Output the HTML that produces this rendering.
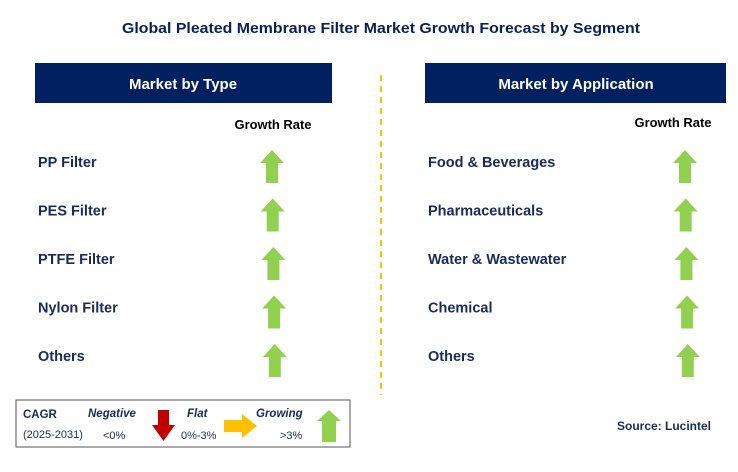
<!DOCTYPE html>
<html><head><meta charset="utf-8"><style>
html,body{margin:0;padding:0;background:#fff;}
svg text{font-family:"Liberation Sans",Arial,sans-serif;}
</style></head><body>
<svg id="chart" width="738" height="467" viewBox="0 0 738 467" xmlns="http://www.w3.org/2000/svg">
<text x="381" y="33" text-anchor="middle" font-size="15" font-weight="bold" fill="#0a1f5c" textLength="518" lengthAdjust="spacingAndGlyphs">Global Pleated Membrane Filter Market Growth Forecast by Segment</text>
<rect x="35" y="63" width="297" height="40" fill="#002060"/>
<text x="183" y="89" text-anchor="middle" font-size="15" font-weight="bold" fill="#fff">Market by Type</text>
<rect x="425" y="63" width="301" height="40" fill="#002060"/>
<text x="576" y="89" text-anchor="middle" font-size="15" font-weight="bold" fill="#fff">Market by Application</text>
<line x1="381" y1="75" x2="381" y2="395" stroke="#ffc000" stroke-width="2" stroke-dasharray="6,5"/>
<text x="273" y="129" text-anchor="middle" font-size="12.5" font-weight="bold" fill="#000" textLength="77" lengthAdjust="spacingAndGlyphs">Growth Rate</text>
<text x="673" y="127" text-anchor="middle" font-size="12.5" font-weight="bold" fill="#000" textLength="77" lengthAdjust="spacingAndGlyphs">Growth Rate</text>
<g id="rows"></g>
<rect x="16" y="400" width="334" height="47" fill="#fff" stroke="#555" stroke-width="1"/>
<text x="23" y="418" font-size="11.5" font-weight="bold" fill="#1a2a5e">CAGR</text>
<text x="23" y="438" font-size="11" fill="#1a2a5e">(2025-2031)</text>
<text x="88" y="417" font-size="11.5" font-weight="bold" font-style="italic" fill="#1a2a5e">Negative</text>
<text x="103" y="439" font-size="11" fill="#1a2a5e">&lt;0%</text>
<polygon points="158,410 169,410 169,425 175,425 163.5,441 152,425 158,425" fill="#c00000"/>
<text x="187" y="417" font-size="11.5" font-weight="bold" font-style="italic" fill="#1a2a5e">Flat</text>
<text x="181" y="439" font-size="11" fill="#1a2a5e">0%-3%</text>
<polygon points="224,420 242,420 242,414 257,426 242,438 242,432 224,432" fill="#ffc000"/>
<text x="256" y="417" font-size="11.5" font-weight="bold" font-style="italic" fill="#1a2a5e">Growing</text>
<text x="280" y="439" font-size="11" fill="#1a2a5e">&gt;3%</text>
<polygon points="329,410 341,421 336,421 336,442 322,442 322,421 317,421" fill="#92d050"/>
<text x="711" y="430" text-anchor="end" font-size="12" font-weight="bold" fill="#1a2a5e">Source: Lucintel</text>
</svg>
<script>
const typeCategories = ["PP Filter","PES Filter","PTFE Filter","Nylon Filter","Others"];
const typeGrowth = ["growing","growing","growing","growing","growing"];
const appCategories = ["Food & Beverages","Pharmaceuticals","Water & Wastewater","Chemical","Others"];
const appGrowth = ["growing","growing","growing","growing","growing"];

const NS = "http://www.w3.org/2000/svg";
const g = document.getElementById("rows");
function rowY(i){ return 162 + i*48.5; }
function arrow(cx, cy, kind){
  const p = document.createElementNS(NS,"polygon");
  let pts, fill;
  if(kind==="growing"){ pts=[[cx,cy-17],[cx+12,cy-4],[cx+6,cy-4],[cx+6,cy+16],[cx-6,cy+16],[cx-6,cy-4],[cx-12,cy-4]]; fill="#92d050"; }
  else if(kind==="negative"){ pts=[[cx,cy+17],[cx+12,cy+4],[cx+6,cy+4],[cx+6,cy-16],[cx-6,cy-16],[cx-6,cy+4],[cx-12,cy+4]]; fill="#c00000"; }
  else { pts=[[cx+16,cy],[cx+3,cy-12],[cx+3,cy-6],[cx-16,cy-6],[cx-16,cy+6],[cx+3,cy+6],[cx+3,cy+12]]; fill="#ffc000"; }
  p.setAttribute("points", pts.map(q=>q.join(",")).join(" "));
  p.setAttribute("fill", fill);
  return p;
}
function drawCol(cats, growth, lx, ax, prefix){
  cats.forEach((c,i)=>{
    const y=rowY(i);
    const t=document.createElementNS(NS,"text");
    
    
    t.setAttribute("x",lx); t.setAttribute("y",y+5);
    t.setAttribute("font-size","14.5"); t.setAttribute("font-weight","bold"); t.setAttribute("fill","#1a2a5e");
    t.textContent=c; g.appendChild(t);
    const a=arrow(ax+i*0.7,y+5,growth[i]);
    
    
    g.appendChild(a);
  });
}
drawCol(typeCategories,typeGrowth,38,272,"type");
drawCol(appCategories,appGrowth,428,685,"application");
</script>
</body></html>
